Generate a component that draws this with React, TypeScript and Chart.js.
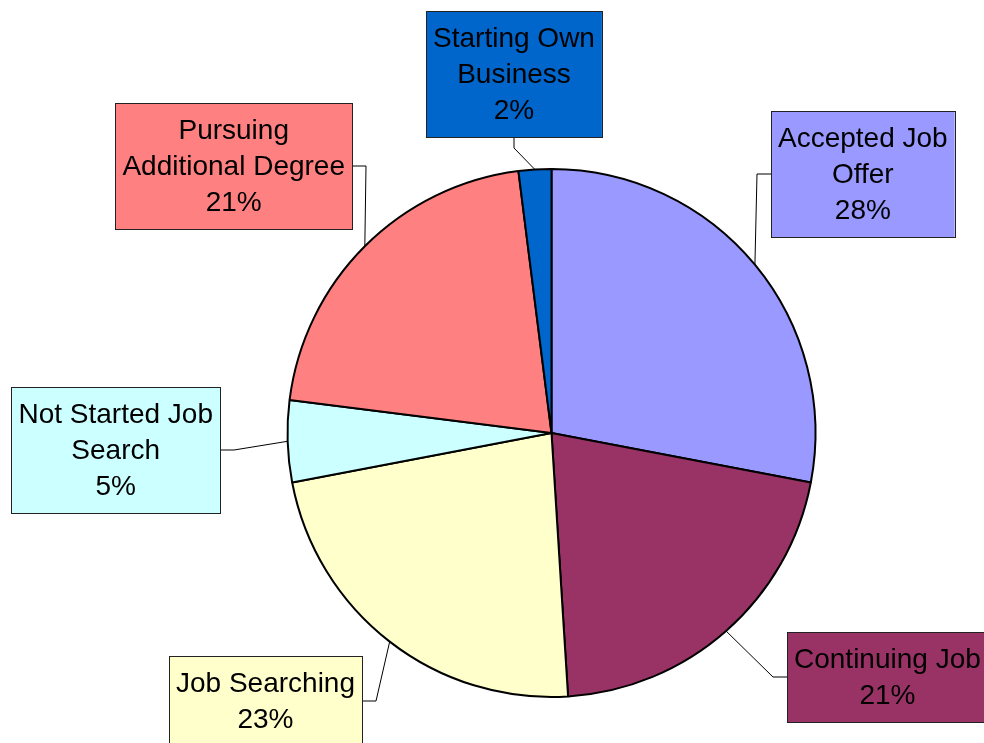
import React, { useEffect, useRef } from "react";
import { Chart, registerables } from "chart.js";

Chart.register(...registerables);

const categories = [
  "Accepted Job Offer",
  "Continuing Job",
  "Job Searching",
  "Not Started Job Search",
  "Pursuing Additional Degree",
  "Starting Own Business",
];
const values = [28, 21, 23, 5, 21, 2];
const labelLines = [
  ["Accepted Job", "Offer"],
  ["Continuing Job"],
  ["Job Searching"],
  ["Not Started Job", "Search"],
  ["Pursuing", "Additional Degree"],
  ["Starting Own", "Business"],
];
const colors = ["#9999FF", "#993366", "#FFFFCC", "#CCFFFF", "#FF8080", "#0066CC"];

// label box layout: left/right edge anchor, top, and which side the leader connects to
const boxLayout = [
  { x: 771, top: 111, side: "left" },
  { x: 787, top: 632, side: "left" },
  { x: 362, top: 656, side: "right" },
  { x: 220, top: 387, side: "right" },
  { x: 352, top: 103, side: "right" },
  { x: 514, top: 11, side: "bottom" },
];

const FONT = '28px "Liberation Sans", Arial, sans-serif';
const LINE_H = 36;
const PAD_X = 7;
const PAD_Y = 9;
const ELBOW = 14;

const calloutPlugin = {
  id: "callouts",
  afterDraw(chart: any) {
    const ctx = chart.ctx;
    const meta = chart.getDatasetMeta(0);
    const total = values.reduce((a, b) => a + b, 0);
    ctx.save();
    ctx.font = FONT;
    meta.data.forEach((arc: any, i: number) => {
      const { x, y, startAngle, endAngle, outerRadius } = arc.getProps(
        ["x", "y", "startAngle", "endAngle", "outerRadius"],
        true
      );
      const mid = (startAngle + endAngle) / 2;
      const ax = x + Math.cos(mid) * outerRadius;
      const ay = y + Math.sin(mid) * outerRadius;
      const pct = Math.round((values[i] / total) * 100) + "%";
      const lines = [...labelLines[i], pct];
      const w = Math.max(...lines.map((l) => ctx.measureText(l).width)) + PAD_X * 2;
      const h = lines.length * LINE_H + PAD_Y * 2;
      const L = boxLayout[i];
      let bx: number, by = L.top;
      let cx: number, cy: number, ex: number, ey: number;
      if (L.side === "left") {
        bx = L.x;
        cx = bx;
        cy = by + h / 2;
        ex = cx - ELBOW;
        ey = cy;
      } else if (L.side === "right") {
        bx = L.x - w;
        cx = L.x;
        cy = by + h / 2;
        ex = cx + ELBOW;
        ey = cy;
      } else {
        bx = L.x - w / 2;
        cx = L.x;
        cy = by + h;
        ex = cx;
        ey = cy + ELBOW - 3;
      }
      // leader
      ctx.strokeStyle = "#000";
      ctx.lineWidth = 1;
      ctx.beginPath();
      ctx.moveTo(ax, ay);
      ctx.lineTo(ex, ey);
      ctx.lineTo(cx, cy);
      ctx.stroke();
      // box
      ctx.fillStyle = colors[i];
      ctx.fillRect(bx, by, w, h);
      ctx.strokeStyle = "#222";
      ctx.strokeRect(Math.round(bx) + 0.5, by + 0.5, Math.round(w), h);
      ctx.fillStyle = "#000";
      ctx.textAlign = "center";
      ctx.textBaseline = "middle";
      lines.forEach((l, k) => {
        ctx.fillText(l, bx + w / 2, by + PAD_Y + LINE_H * k + LINE_H / 2 + 1);
      });
    });
    ctx.restore();
  },
};

export default function App() {
  const ref = useRef<HTMLCanvasElement>(null);
  useEffect(() => {
    const chart = new Chart(ref.current!, {
      type: "pie",
      data: {
        labels: categories,
        datasets: [
          {
            data: values,
            backgroundColor: colors,
            borderColor: "#000",
            borderWidth: 2,
          },
        ],
      },
      options: {
        responsive: false,
        animation: false,
        layout: { padding: { left: 286, right: 167, top: 168, bottom: 45 } },
        plugins: { legend: { display: false }, tooltip: { enabled: false } },
      },
      plugins: [calloutPlugin],
    });
    return () => chart.destroy();
  }, []);
  return (
    <div style={{ position: "absolute", left: 0, top: 0, width: 984, height: 743, background: "#fff" }}>
      <canvas ref={ref} width={984} height={743} />
    </div>
  );
}
